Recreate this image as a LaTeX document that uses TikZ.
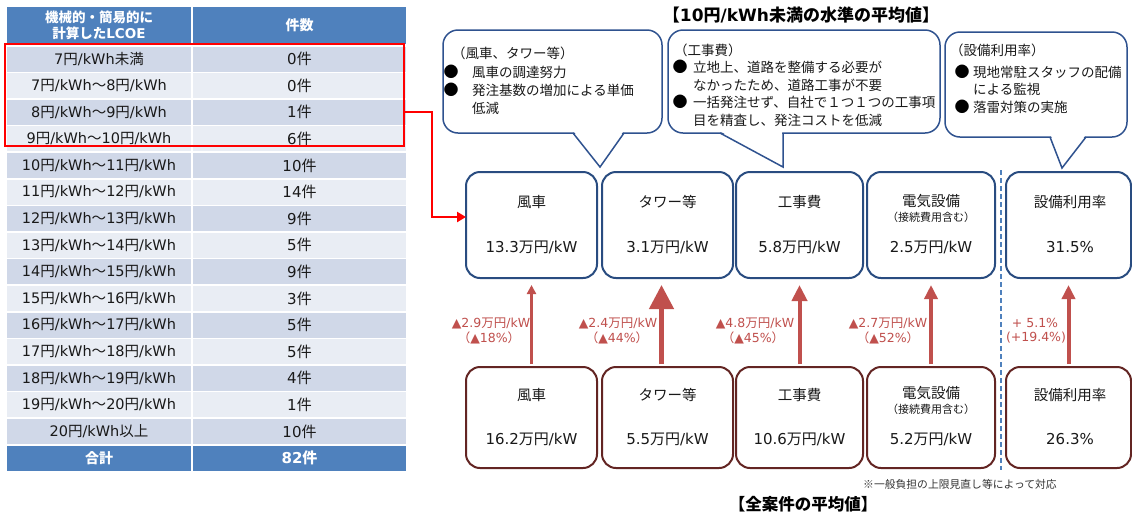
\documentclass[tikz,border=0pt]{standalone}
\usepackage{fontspec}
\setmainfont{Noto Sans CJK JP}
\newfontfamily\latf{DejaVu Sans}
\newcommand\ml[1]{{\latf #1}}
\newcommand\rng[2]{\ml{#1}円\ml{/kWh}～\ml{#2}円\ml{/kWh}}
\newcommand\fsz[2]{\fontsize{#1}{#2}\selectfont}
\usetikzlibrary{arrows.meta,calc}
\definecolor{hdr}{RGB}{79,129,189}
\definecolor{rowd}{RGB}{208,216,232}
\definecolor{rowl}{RGB}{233,237,244}
\definecolor{topb}{RGB}{41,76,128}
\definecolor{botb}{RGB}{99,37,35}
\definecolor{arr}{RGB}{192,80,77}
\definecolor{callb}{RGB}{47,82,143}
\begin{document}
\begin{tikzpicture}[x=1pt,y=-1pt,
  cell/.style={minimum height=25, inner sep=0, outer sep=0},
  tbox/.style={draw=topb, line width=2pt, rounded corners=14pt, minimum width=#1, minimum height=106, inner sep=0, outer sep=0},
  bbox/.style={draw=botb, line width=2pt, rounded corners=14pt, minimum width=#1, minimum height=101, inner sep=0, outer sep=0},
  callout/.style={draw=callb, line width=1.5pt, fill=white, rounded corners=15pt, minimum width=#1, inner sep=0, outer sep=0},
  ctext/.style={anchor=west, inner sep=0, font=\fsz{13.5}{16}, text=black!90},
  bul/.style={inner sep=0, font=\fsz{15}{17}, text=black},
  lab/.style={inner sep=0, font=\fsz{14.5}{17}, text=black!90},
  val/.style={inner sep=0, font=\fsz{15}{17}, text=black!90},
  sub/.style={inner sep=0, font=\fsz{11}{13}, text=black!90},
  dlab/.style={inner sep=0, font=\fsz{12.5}{15}, text=arr},
  uparr/.style n args={3}{draw=arr, line width=#1, -{Triangle[width=#2,length=#3]}, shorten <=3pt, shorten >=7pt}
]
\useasboundingbox (0,0) rectangle (1132,515);
\fill[white] (0,0) rectangle (1132,515);

% ---------- table ----------
\node[cell, fill=hdr, minimum width=184, minimum height=37, text=white, align=center, font={\fsz{13.5}{16}\bfseries}] (H1) at (99,25.5) {機械的・簡易的に\\計算した\ml{LCOE}};
\node[cell, fill=hdr, minimum width=213, minimum height=37, text=white, font={\fsz{14}{16}\bfseries}] (H2) at (299.5,25.5) {件数};
\foreach \i/\a/\b in {0/{\ml{7}円\ml{/kWh}未満}/0,1/{\rng{7}{8}}/0,2/{\rng{8}{9}}/1,3/{\rng{9}{10}}/6,4/{\rng{10}{11}}/10,5/{\rng{11}{12}}/14,6/{\rng{12}{13}}/9,7/{\rng{13}{14}}/5,8/{\rng{14}{15}}/9,9/{\rng{15}{16}}/3,10/{\rng{16}{17}}/5,11/{\rng{17}{18}}/5,12/{\rng{18}{19}}/4,13/{\rng{19}{20}}/1,14/{\ml{20}円\ml{/kWh}以上}/10}{
  \ifodd\i \def\rc{rowl}\else\def\rc{rowd}\fi
  \pgfmathsetmacro\yc{59+26.6*\i}
  \node[cell, fill=\rc, minimum width=184, text=black!90, font=\fsz{14.5}{17}] (L\i) at (99,\yc) {\a};
  \node[cell, fill=\rc, minimum width=213, text=black!90, font=\fsz{15}{17}] (R\i) at (299.5,\yc) {\ml{\b}件};
}
\node[cell, fill=hdr, minimum width=184, text=white, font={\fsz{14}{16}\bfseries}] (L15) at (99,458) {合計};
\node[cell, fill=hdr, minimum width=213, text=white, font={\fsz{15}{17}\bfseries}] (R15) at (299.5,458) {\ml{82}件};

% selection frame
\node[draw=red, line width=2pt, minimum width=399, minimum height=102, inner sep=0, outer sep=0] (sel) at (204.5,95) {};

% ---------- titles ----------
\node[inner sep=0, font={\fsz{17}{20}\bfseries}] (title1) at (801,15) {【\ml{10}円\ml{/kWh}未満の水準の平均値】};
\node[inner sep=0, font={\fsz{16.5}{20}\bfseries}] (title2) at (803,504) {【全案件の平均値】};
\node[inner sep=0, font=\fsz{10.8}{13}, text=black!80] (note) at (960,484) {※一般負担の上限見直し等によって対応};

% ---------- top boxes ----------
\node[tbox=131] (t1) at (531.5,225) {};
\node[tbox=131] (t2) at (667.5,225) {};
\node[tbox=127] (t3) at (799.5,225) {};
\node[tbox=128] (t4) at (931,225) {};
\node[tbox=125] (t5) at (1068.5,225) {};
\node[lab] (t1l) at (531.5,202) {風車};
\node[val] (t1v) at (531.5,247) {\ml{13.3}万円\ml{/kW}};
\node[lab] (t2l) at (667.5,202) {タワー等};
\node[val] (t2v) at (667.5,247) {\ml{3.1}万円\ml{/kW}};
\node[lab] (t3l) at (799.5,202) {工事費};
\node[val] (t3v) at (799.5,247) {\ml{5.8}万円\ml{/kW}};
\node[lab] (t4l) at (931,201) {電気設備};
\node[sub] (t4s) at (931,217) {（接続費用含む）};
\node[val] (t4v) at (931,247) {\ml{2.5}万円\ml{/kW}};
\node[lab] (t5l) at (1070,202) {設備利用率};
\node[val] (t5v) at (1070,247) {\ml{31.5\%}};

% ---------- bottom boxes ----------
\node[bbox=131] (b1) at (531.5,417.5) {};
\node[bbox=131] (b2) at (667.5,417.5) {};
\node[bbox=127] (b3) at (799.5,417.5) {};
\node[bbox=128] (b4) at (931,417.5) {};
\node[bbox=125] (b5) at (1068.5,417.5) {};
\node[lab] (b1l) at (531.5,395) {風車};
\node[val] (b1v) at (531.5,439) {\ml{16.2}万円\ml{/kW}};
\node[lab] (b2l) at (667.5,395) {タワー等};
\node[val] (b2v) at (667.5,439) {\ml{5.5}万円\ml{/kW}};
\node[lab] (b3l) at (799.5,395) {工事費};
\node[val] (b3v) at (799.5,439) {\ml{10.6}万円\ml{/kW}};
\node[lab] (b4l) at (931,393) {電気設備};
\node[sub] (b4s) at (931,409) {（接続費用含む）};
\node[val] (b4v) at (931,439) {\ml{5.2}万円\ml{/kW}};
\node[lab] (b5l) at (1070,395) {設備利用率};
\node[val] (b5v) at (1070,439) {\ml{26.3\%}};

% red selection arrow to wind box
\draw[red, line width=2.5pt, -{Triangle[width=10,length=9]}] ($(sel.east)+(0,17)$) -- ++(28,0) |- ($(t1.west)+(0,-8)$);

% dashed separator
\coordinate (dtop) at (1001,170);
\coordinate (dbot) at (1001,470);
\draw[hdr, line width=2pt, dash pattern=on 5pt off 3pt] (dtop) -- (dbot);

% ---------- arrows ----------
\draw[uparr={2.5pt}{9}{9}] (b1.north) -- (t1.south);
\draw[uparr={4.5pt}{24}{24}] ($(b2.north)+(-6,0)$) -- ($(t2.south)+(-6,0)$);
\draw[uparr={4pt}{15}{16}] (b3.north) -- (t3.south);
\draw[uparr={4pt}{13}{14}] (b4.north) -- (t4.south);
\draw[uparr={4pt}{13}{14}] (b5.north) -- (t5.south);

\node[dlab] (d1a) at (491,323) {\ml{▲2.9}万円\ml{/kW}};
\node[dlab] (d1b) at (489,338) {（\ml{▲18\%}）};
\node[dlab] (d2a) at (618,323) {\ml{▲2.4}万円\ml{/kW}};
\node[dlab] (d2b) at (617,338) {（\ml{▲44\%}）};
\node[dlab] (d3a) at (755,323) {\ml{▲4.8}万円\ml{/kW}};
\node[dlab] (d3b) at (753,338) {（\ml{▲45\%}）};
\node[dlab] (d4a) at (888,323) {\ml{▲2.7}万円\ml{/kW}};
\node[dlab] (d4b) at (888,338) {（\ml{▲52\%}）};
\node[dlab] (d5a) at (1035,323) {\ml{+ 5.1\%}};
\node[dlab] (d5b) at (1036,338) {\ml{(+19.4\%)}};

% ---------- callouts ----------
\node[callout=219, minimum height=103] (c1) at (552.5,81.5) {};
\node[callout=272, minimum height=103] (c2) at (804,81.5) {};
\node[callout=182, minimum height=105] (c3) at (1036,84.5) {};
% pointers
\fill[white] ($(c1.south)+(21.5,-1.2)$) -- ($(c1.south)+(70.5,-1.2)$) -- ($(c1.south)+(47.5,33)$) -- cycle;
\draw[callb, line width=1.5pt, line join=miter] ($(c1.south)+(20.5,0)$) -- ($(c1.south)+(47.5,34)$) -- ($(c1.south)+(71.5,0)$);
\fill[white] ($(c2.south)+(-83,-1.2)$) -- ($(c2.south)+(-21.8,-1.2)$) -- ($(c2.south)+(-21.8,33)$) -- cycle;
\draw[callb, line width=1.5pt, line join=miter] ($(c2.south)+(-84,0)$) -- ($(c2.south)+(-21,34)$) -- ($(c2.south)+(-21,0)$);
\fill[white] ($(c3.south)+(15,-1.2)$) -- ($(c3.south)+(49,-1.2)$) -- ($(c3.south)+(26,30)$) -- cycle;
\draw[callb, line width=1.5pt, line join=miter] ($(c3.south)+(14,0)$) -- ($(c3.south)+(26,31)$) -- ($(c3.south)+(50,0)$);

% callout 1 text
\node[ctext] (c1h) at (452,53) {（風車、タワー等）};
\node[bul] (c1b1) at (451,72) {●};
\node[ctext] (c1t1) at (472,72) {風車の調達努力};
\node[bul] (c1b2) at (451,90) {●};
\node[ctext] (c1t2) at (472,90) {発注基数の増加による単価};
\node[ctext] (c1t3) at (472,108) {低減};
% callout 2 text
\node[ctext] (c2h) at (674,50) {（工事費）};
\node[bul] (c2b1) at (680,67) {●};
\node[ctext] (c2t1) at (693,67) {立地上、道路を整備する必要が};
\node[ctext] (c2t2) at (693,85) {なかったため、道路工事が不要};
\node[bul] (c2b2) at (680,102) {●};
\node[ctext] (c2t3) at (693,102) {一括発注せず、自社で１つ１つの工事項};
\node[ctext] (c2t4) at (693,120) {目を精査し、発注コストを低減};
% callout 3 text
\node[ctext] (c3h) at (950,50) {（設備利用率）};
\node[bul] (c3b1) at (962,72) {●};
\node[ctext] (c3t1) at (973,72) {現地常駐スタッフの配備};
\node[ctext] (c3t2) at (973,89) {による監視};
\node[bul] (c3b2) at (962,107) {●};
\node[ctext] (c3t3) at (973,107) {落雷対策の実施};
\end{tikzpicture}
\end{document}
